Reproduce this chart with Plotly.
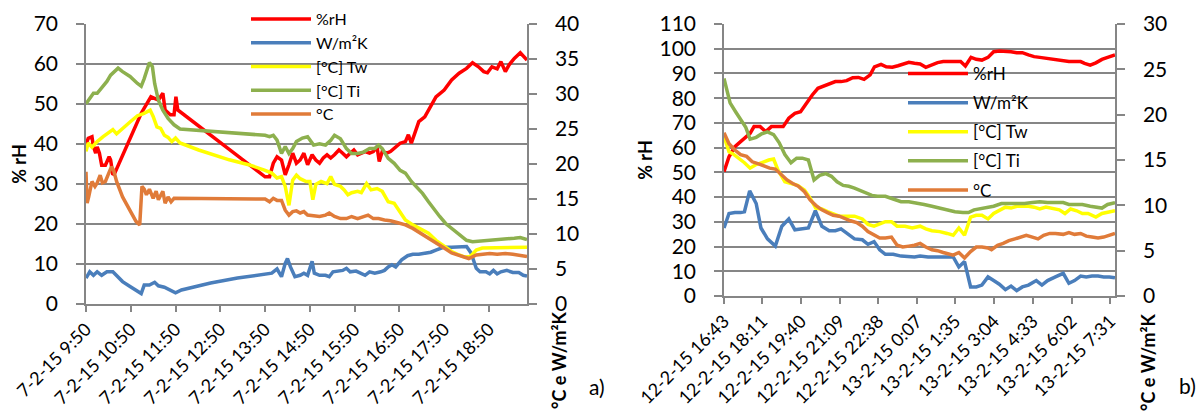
import plotly.graph_objects as go

# ---------------- data: chart a) (minutes after 7-2-15 9:50) ----------------
tick_min_a = [0, 60, 120, 180, 240, 300, 360, 420, 480, 540]
tick_lbl_a = ["7-2-15 9:50", "7-2-15 10:50", "7-2-15 11:50", "7-2-15 12:50",
              "7-2-15 13:50", "7-2-15 14:50", "7-2-15 15:50", "7-2-15 16:50",
              "7-2-15 17:50", "7-2-15 18:50"]

t_rh_a = [0, 3, 8, 10, 13, 15, 18, 21, 26, 31, 33, 36, 38.5, 74, 87, 92, 97, 103, 106, 113,
          118, 120.5, 123, 240, 246, 251, 256, 262, 267, 272, 277, 282, 287, 292, 297, 303,
          308, 313, 318, 323, 328, 333, 339, 344, 349, 354, 359, 364, 369, 374, 380, 385,
          390, 393, 397, 403, 408, 415, 421, 428, 432, 436, 441, 446, 454, 462, 469, 480,
          490, 500, 510, 518, 526, 533, 538, 544, 551, 556, 562, 567, 574, 582, 587, 591]
rh_a = [40, 41.4, 41.8, 39.3, 37.7, 39.3, 37.7, 34.7, 34.7, 36.8, 36, 32.3, 32.7, 47.7, 51.8,
        51.4, 51, 52.7, 48.5, 47.3, 47.3, 51.8, 48.5, 31.8, 31.8, 35.2, 36.8, 36, 32.3, 34.8,
        37.7, 35.2, 36, 37.7, 34.8, 37.3, 36, 35.2, 36.5, 37.3, 36.5, 37.3, 38.5, 37.7, 36.8,
        37.7, 38.5, 37.3, 37.7, 38.1, 37.7, 38.1, 39.3, 35.6, 38.1, 37.7, 38.1, 39.3, 40.2,
        40.6, 42.3, 40.2, 43, 45.6, 46.8, 49.3, 51.8, 53.5, 56, 57.7, 58.9, 60.3, 59.3, 58.1,
        57.8, 59.3, 58.8, 60.6, 58.1, 59.8, 61.4, 62.8, 61.8, 61]

t_u_a = [0, 5, 10, 15, 21, 28, 36, 41, 49, 59, 69, 74, 78, 85, 92, 97, 105, 113, 120, 128,
         167, 203, 240, 249, 256, 262, 267, 270, 274, 280, 287, 292, 297, 303, 306, 313, 321,
         326, 331, 339, 344, 349, 354, 362, 369, 374, 380, 387, 395, 400, 405, 410, 415, 423,
         431, 438, 446, 454, 462, 469, 479, 490, 500, 510, 516, 523, 528, 536, 541, 546, 551,
         556, 564, 572, 580, 586, 591]
u_a = [3.7, 4.6, 4.1, 4.6, 4.1, 4.6, 4.6, 4.1, 3.2, 2.5, 1.8, 1.5, 2.7, 2.7, 3.1, 2.6, 2.4,
       2.0, 1.6, 2.0, 3.0, 3.7, 4.3, 4.4, 5.0, 3.9, 5.8, 6.5, 5.3, 3.9, 4.1, 4.4, 4.1, 6.1,
       4.4, 4.1, 4.1, 3.9, 4.6, 4.8, 4.8, 5.1, 4.6, 4.7, 4.4, 4.1, 4.6, 4.4, 4.6, 4.8, 5.3,
       5.6, 5.3, 6.3, 6.9, 7.1, 7.1, 7.2, 7.4, 7.7, 8.1, 8.1, 8.2, 8.2, 7.3, 5.1, 4.6, 4.6,
       4.3, 4.8, 4.3, 4.6, 4.8, 4.5, 4.5, 4.1, 4.0]

t_tw_a = [0, 3, 8, 15, 23, 31, 36, 41, 49, 59, 69, 77, 86, 90, 95, 100, 105, 110, 115, 120,
          126, 151, 192, 218, 240, 249, 256, 262, 267, 272, 277, 282, 287, 295, 300, 304, 308,
          315, 323, 328, 333, 341, 346, 351, 356, 364, 369, 376, 382, 390, 397, 405, 413, 421,
          428, 438, 449, 459, 469, 480, 490, 500, 508, 515, 523, 531, 541, 551, 562, 572, 582,
          591]
tw_a = [21.8, 23.0, 22.4, 23.2, 23.9, 24.6, 24.9, 24.3, 25.1, 26, 26.9, 27.2, 27.7, 26.8, 25.3,
        25.1, 24.1, 23.8, 23.2, 23.7, 23, 22, 20.6, 19.9, 19.1, 18.7, 18, 18.2, 16.8, 14.1, 17.7,
        18.4, 17.9, 17.5, 17.5, 14.9, 17.1, 17.5, 17.2, 18.2, 17.1, 16.8, 16.3, 15.6, 15.9,
        16.1, 15.9, 17.2, 16.3, 16.5, 16.1, 14.6, 14.4, 13, 12, 11.3, 10.6, 10.1, 9.1, 8.2, 7.5,
        7, 6.7, 6.8, 7.7, 8.0, 8.0, 8.0, 8.0, 8.0, 8.0, 8.1]

t_ti_a = [0, 5, 10, 15, 21, 28, 33, 38, 43, 49, 59, 69, 74, 78, 85, 89, 92, 97, 103, 110, 118,
          126, 151, 192, 240, 246, 251, 256, 262, 267, 272, 277, 282, 290, 297, 305, 313, 321,
          328, 333, 341, 349, 356, 364, 372, 380, 387, 392, 397, 405, 413, 421, 428, 436, 444,
          451, 459, 467, 474, 482, 490, 500, 510, 518, 531, 546, 562, 574, 582, 591]
ti_a = [28.6, 29.4, 30.1, 30.1, 30.8, 31.8, 32.7, 33.2, 33.7, 33.2, 32.5, 31.5, 31.1, 32.2, 34.5,
        33.9, 31.5, 29.1, 27.7, 26.5, 25.6, 25, 24.8, 24.5, 24.1, 23.9, 24.1, 23.4, 21.5, 22.5,
        21.5, 22.2, 23.2, 23.7, 23.9, 22.7, 22.9, 22.7, 23.4, 24.1, 23.6, 22.2, 21.5, 21.5,
        21.7, 22.2, 22.2, 22.7, 22.2, 20.8, 20.1, 19.1, 18.7, 17.5, 16.5, 15.8, 14.6, 13.4,
        12.5, 11.5, 10.8, 9.9, 9.1, 8.9, 9.0, 9.1, 9.2, 9.4, 9.5, 9.2]

t_c_a = [0, 1.5, 3.6, 8, 12, 15, 19, 22, 26, 31, 34, 37, 41, 49, 59, 67, 72, 75, 78, 81, 85,
         87, 90, 94, 97, 103, 106, 110, 114, 118, 123, 151, 192, 240, 246, 251, 256, 262, 267,
         272, 277, 282, 287, 292, 297, 305, 313, 321, 326, 333, 341, 349, 356, 364, 372, 378,
         385, 392, 400, 408, 418, 428, 438, 449, 459, 469, 480, 490, 500, 513, 523, 531, 541,
         551, 562, 572, 580, 591]
c_a = [18.9, 14.4, 15.3, 17.5, 16.8, 17.3, 18.4, 17.3, 17.5, 18.7, 19.6, 19.1, 17.5, 15.3, 13.2,
       11.8, 11.3, 16.8, 16.4, 15.6, 16.4, 15.9, 15.1, 16.1, 14.9, 16.1, 14.4, 15.3, 14.6, 15.1,
       15.1, 15.1, 15.0, 15.0, 14.6, 15.1, 14.8, 14.8, 13.4, 12.7, 13.2, 13.3, 13.0, 13.2, 12.7,
       12.6, 12.5, 12.7, 13.0, 12.5, 12.2, 12.2, 12.5, 12.2, 12.5, 12.7, 12.2, 12.2, 12.0, 11.9,
       11.6, 11.3, 10.8, 10.1, 9.4, 8.7, 8.0, 7.3, 7, 6.5, 7, 7.1, 7.2, 7.1, 7.2, 7.1, 7.0, 6.8]

# ---------------- data: chart b) (minutes after 12-2-15 16:43) ----------------
tick_min_b = [0, 88, 177, 266, 355, 444, 532, 621, 710, 799, 888]
tick_lbl_b = ["12-2-15 16:43", "12-2-15 18:11", "12-2-15 19:40", "12-2-15 21:09",
              "12-2-15 22:38", "13-2-15 0:07", "13-2-15 1:35", "13-2-15 3:04",
              "13-2-15 4:33", "13-2-15 6:02", "13-2-15 7:31"]

t_rh_b = [0, 11.5, 25, 38, 50, 60, 69, 83, 96, 109, 123, 136, 149, 163, 176, 189, 203, 216,
          229, 242, 256, 269, 282, 296, 309, 322, 336, 346, 361, 373, 387, 400, 411, 425, 438,
          451, 464, 478, 491, 504, 518, 531, 544, 555, 568, 580, 593, 607, 620, 633, 647, 660,
          673, 686, 700, 713, 726, 740, 753, 766, 780, 793, 806, 820, 829, 842, 855, 869, 882,
          891, 899]
rh_b = [50.3, 56.3, 60.4, 62.4, 63.8, 65.8, 68.5, 68.5, 66.5, 68.5, 68.5, 68.5, 71.9, 73.9,
        74.5, 77.9, 81.3, 84, 84.9, 85.7, 86.7, 86.7, 87.1, 88.3, 88.4, 87.6, 89.4, 92.7, 93.7,
        92.7, 92.5, 93.1, 93.7, 94.5, 94.1, 93.8, 92.5, 93.4, 94.4, 94.8, 94.8, 94.8, 94.8, 93,
        96.5, 95.7, 95.4, 96.5, 98.8, 99.1, 99.1, 98.8, 98.4, 98.4, 97.5, 96.8, 96.5, 96.1,
        95.7, 95.4, 95, 94.8, 94.8, 94.8, 94.1, 93.4, 94.3, 95.7, 96.5, 97, 97.5]

t_u_b = [0, 11.5, 25, 38, 47, 59, 74, 85, 100, 118, 133, 149, 163, 176, 194, 210, 225, 242,
         256, 269, 282, 300, 318, 331, 345, 358, 371, 389, 407, 425, 438, 451, 469, 487, 504,
         527, 540, 553, 567, 580, 593, 607, 620, 633, 647, 660, 673, 686, 700, 718, 731, 744,
         762, 780, 793, 806, 820, 833, 846, 860, 873, 886, 899]
u_b = [7.5, 9.1, 9.2, 9.2, 9.3, 11.6, 10.2, 7.5, 6.3, 5.5, 7.7, 8.5, 7.3, 7.4, 7.5, 9.4, 7.7,
       7.2, 7.2, 7.4, 6.9, 6.3, 6.2, 5.7, 6.0, 5.1, 4.6, 4.6, 4.4, 4.3, 4.3, 4.4, 4.3, 4.3, 4.3,
       4.3, 3.2, 3.8, 1.0, 1.0, 1.2, 2.1, 1.7, 1.3, 0.7, 1.1, 0.6, 1.0, 1.2, 1.7, 1.2, 1.7, 2.1,
       2.5, 1.4, 1.7, 2.2, 2.1, 2.2, 2.2, 2.1, 2.1, 2.0]

t_tw_b = [0, 11.5, 20, 34, 47, 60, 74, 87, 103, 114, 124, 140, 154, 169, 185, 198, 211, 225,
          238, 251, 265, 282, 300, 318, 331, 345, 358, 371, 385, 398, 416, 433, 451, 464, 478,
          496, 513, 527, 540, 553, 567, 580, 593, 607, 620, 633, 647, 660, 673, 686, 700, 713,
          726, 740, 753, 771, 784, 797, 811, 824, 837, 855, 869, 886, 899]
tw_b = [17.6, 15.9, 15.7, 15.2, 14.7, 14.1, 14.5, 14.7, 15, 15.1, 13.9, 12.6, 12.4, 12.2, 11.7,
        10.8, 9.7, 9.6, 9.3, 9.1, 8.8, 8.8, 8.8, 8.5, 7.9, 7.7, 7.9, 8.2, 8.2, 7.7, 7.7, 7.5,
        7.7, 7.4, 7.2, 7.1, 6.9, 6.7, 7.5, 6.7, 8.7, 8.9, 8.9, 8.5, 9.1, 9.4, 9.8, 9.7, 9.9,
        9.9, 9.9, 9.8, 9.6, 9.8, 9.7, 9.5, 9.1, 9.6, 9.4, 9.1, 9.1, 8.7, 9.1, 9.3, 9.4]

t_ti_b = [0, 14, 27, 38, 50, 60, 74, 87, 100, 114, 127, 140, 154, 167, 180, 194, 207, 220, 234,
          247, 260, 274, 287, 300, 314, 327, 340, 353, 371, 389, 407, 425, 442, 460, 478, 496,
          513, 531, 549, 562, 575, 589, 602, 620, 638, 655, 673, 691, 709, 726, 744, 762, 780,
          793, 806, 824, 842, 860, 869, 882, 899]
ti_b = [24, 21.3, 20.3, 19.4, 18.6, 17.3, 17.5, 17.9, 18.1, 17.8, 16.9, 15.6, 14.7, 15.2,
        15.2, 15, 12.8, 13.3, 13.5, 13.2, 12.6, 12.2, 12.1, 11.9, 11.6, 11.3, 11.1, 11.0, 11.0,
        10.7, 10.4, 10.4, 10.3, 10.1, 9.9, 9.7, 9.5, 9.3, 9.2, 9.2, 9.5, 9.6, 9.7, 9.9, 10.2,
        10.2, 10.2, 10.2, 10.3, 10.4, 10.3, 10.3, 10.3, 10.1, 10.1, 10.1, 9.9, 9.8, 9.7, 10.1,
        10.3]

t_c_b = [0, 11.5, 25, 38, 52, 65, 78, 92, 105, 118, 131, 145, 158, 171, 185, 198, 211, 225,
         238, 251, 265, 278, 291, 305, 318, 331, 345, 358, 371, 385, 398, 411, 425, 438, 451,
         464, 478, 491, 504, 518, 527, 540, 553, 567, 580, 593, 607, 615, 629, 642, 655, 669,
         682, 695, 709, 722, 735, 749, 762, 780, 793, 806, 820, 833, 846, 860, 873, 886, 899]
c_b = [18, 16.8, 16.1, 15.6, 15.4, 14.8, 14.6, 14.3, 14.1, 14, 13.4, 12.8, 12.4, 12.1, 11.5,
       10.6, 10.0, 9.5, 9.2, 8.9, 8.8, 8.5, 8.3, 8.1, 7.7, 7.1, 6.7, 6.4, 6.4, 6.5, 5.6, 5.4,
       5.5, 5.6, 5.8, 5.4, 5.1, 5.0, 4.8, 4.6, 4.5, 4.8, 4.2, 4.9, 5.4, 5.4, 5.3, 5.1, 5.6,
       5.8, 6.1, 6.3, 6.5, 6.7, 6.5, 6.3, 6.7, 6.9, 6.9, 6.8, 7.0, 6.8, 6.9, 6.6, 6.5, 6.4,
       6.5, 6.7, 6.9]

series_names = ["%rH", "W/m²K", "[°C] Tw", "[°C] Ti", "°C"]

# ---------------- style ----------------
FONT = "Lato"
GREY = "#868686"
COLORS = ["#FF0000", "#4A7EBB", "#FFFF00", "#8DB04E", "#E07B39"]
LW = 3.5

fig = go.Figure()

data_a = [(t_rh_a, rh_a, "y"), (t_u_a, u_a, "y2"), (t_tw_a, tw_a, "y2"),
          (t_ti_a, ti_a, "y2"), (t_c_a, c_a, "y2")]
data_b = [(t_rh_b, rh_b, "y3"), (t_u_b, u_b, "y4"), (t_tw_b, tw_b, "y4"),
          (t_ti_b, ti_b, "y4"), (t_c_b, c_b, "y4")]

for i, (tx, ty, ya) in enumerate(data_a):
    fig.add_trace(go.Scatter(x=tx, y=ty, mode="lines", name=series_names[i],
                             line=dict(color=COLORS[i], width=LW),
                             xaxis="x", yaxis=ya, legend="legend",
                             legendgroup="a%d" % i, hoverinfo="skip"))
for i, (tx, ty, ya) in enumerate(data_b):
    fig.add_trace(go.Scatter(x=tx, y=ty, mode="lines", name=series_names[i],
                             line=dict(color=COLORS[i], width=LW),
                             xaxis="x2", yaxis=ya, legend="legend2",
                             legendgroup="b%d" % i, hoverinfo="skip"))

# the page body adds an 8px offset; the figure is sized to end at the window edge
OFF = 8
W, H = 1204 - OFF, 411 - OFF


def px_x(p):
    return (p - OFF) / W


def px_y(p):
    return 1 - (p - OFF) / H


tickfont = dict(family=FONT, size=21, color="#000")
xtickfont = dict(family=FONT, size=18, color="#000")
common_y = dict(ticks="outside", ticklen=8, tickcolor=GREY, tickwidth=1.5,
                showline=True, linecolor=GREY, linewidth=1.5, zeroline=False,
                tickfont=tickfont, ticklabelstandoff=14, automargin=False)
common_x = dict(ticks="outside", ticklen=6, tickcolor=GREY, tickwidth=1.5,
                showline=True, linecolor=GREY, linewidth=1.5, zeroline=False,
                showgrid=False, tickangle=-45, tickfont=xtickfont, automargin=False)
title_font = dict(family=FONT, size=18, color="#000", weight="bold")

fig.update_layout(
    width=W, height=H, autosize=False,
    margin=dict(l=0, r=0, t=0, b=0, pad=0, autoexpand=False),
    paper_bgcolor="white", plot_bgcolor="white",
    font=dict(family=FONT, color="#000"),
    xaxis=dict(domain=[px_x(86), px_x(527)], anchor="y", range=[0, 591],
               tickmode="array", tickvals=tick_min_a, ticktext=tick_lbl_a, **common_x),
    yaxis=dict(domain=[px_y(304), px_y(24)], anchor="x", range=[0, 70], dtick=10,
               showgrid=True, gridcolor=GREY, gridwidth=1.5,
               title=dict(text="% rH", font=title_font, standoff=10), **common_y),
    yaxis2=dict(overlaying="y", side="right", anchor="x", range=[0, 40], dtick=5,
                showgrid=False, **common_y),
    xaxis2=dict(domain=[px_x(724), px_x(1115)], anchor="y3", range=[0, 899],
                tickmode="array", tickvals=tick_min_b, ticktext=tick_lbl_b, **common_x),
    yaxis3=dict(domain=[px_y(296), px_y(24)], anchor="x2", range=[0, 110], dtick=10,
                showgrid=True, gridcolor=GREY, gridwidth=1.5,
                title=dict(text="% rH", font=title_font, standoff=2), **common_y),
    yaxis4=dict(overlaying="y3", side="right", anchor="x2", range=[0, 30], dtick=5,
                showgrid=False, **common_y),
    legend=dict(x=px_x(246), y=px_y(2), xanchor="left", yanchor="top",
                bgcolor="rgba(0,0,0,0)", font=dict(family=FONT, size=16, color="#000"),
                itemwidth=60, tracegroupgap=0, traceorder="grouped"),
    legend2=dict(x=px_x(903), y=px_y(56), xanchor="left", yanchor="top",
                 bgcolor="rgba(0,0,0,0)", font=dict(family=FONT, size=17, color="#000"),
                 itemwidth=60, tracegroupgap=4, traceorder="grouped"),
    annotations=[
        dict(text="°C e W/m²K", x=px_x(559), y=px_y(360), xref="paper", yref="paper",
             xanchor="center", yanchor="middle",
             showarrow=False, textangle=-90, font=title_font),
        dict(text="°C e W/m²K", x=px_x(1148), y=px_y(362), xref="paper", yref="paper",
             xanchor="center", yanchor="middle",
             showarrow=False, textangle=-90, font=title_font),
        dict(text="a)", x=px_x(597), y=px_y(386), xref="paper", yref="paper",
             xanchor="center", yanchor="middle",
             showarrow=False, font=dict(family=FONT, size=21, color="#000")),
        dict(text="b)", x=px_x(1187), y=px_y(385), xref="paper", yref="paper",
             xanchor="center", yanchor="middle",
             showarrow=False, font=dict(family=FONT, size=21, color="#000")),
    ],
)

fig.write_html("out.html")
